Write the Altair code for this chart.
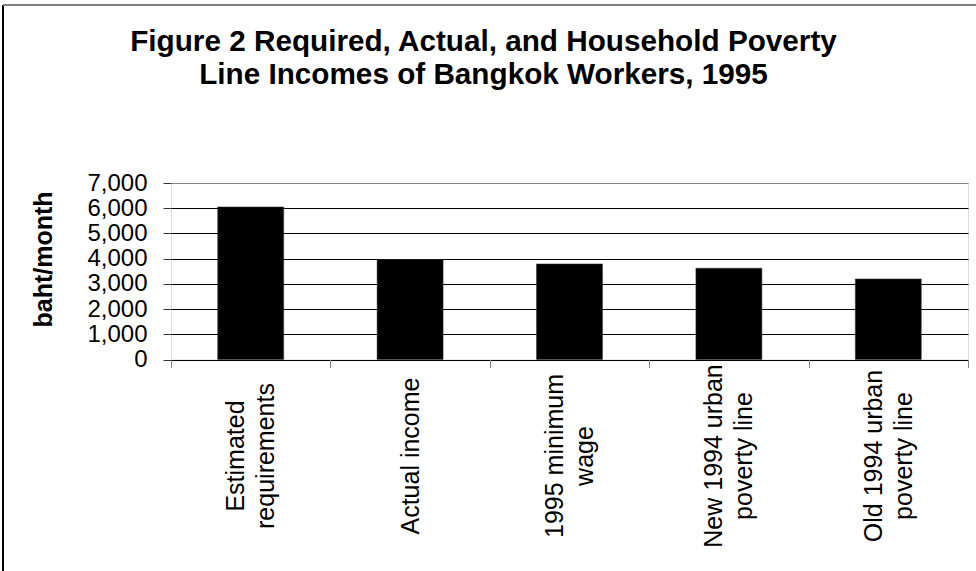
import altair as alt
import pandas as pd

categories = [
    "Estimated\nrequirements",
    "Actual income",
    "1995 minimum\nwage",
    "New 1994 urban\npoverty line",
    "Old 1994 urban\npoverty line",
]
values = [6050, 3960, 3790, 3620, 3195]
y_ticks = [0, 1000, 2000, 3000, 4000, 5000, 6000, 7000]
title_lines = [
    "Figure 2 Required, Actual, and Household Poverty",
    "Line Incomes of Bangkok Workers, 1995",
]
y_title = "baht/month"

FONT = "Liberation Sans"
df = pd.DataFrame({"cat": categories, "val": values})

bars = alt.Chart(df).mark_bar(
    color="black", stroke="#333333", strokeWidth=0.5, width=alt.RelativeBandSize(0.414)
).encode(
    x=alt.X(
        "cat:N",
        sort=categories,
        title=None,
        scale=alt.Scale(paddingInner=0, paddingOuter=0),
        axis=alt.Axis(
            labelExpr="datum.value ? split(datum.value, '\\n') : ''",
            labelAngle=270,
            labelAlign="center",
            labelBaseline="middle",
            labelLineHeight=30,
            labelOffset={"condition": {"test": "datum.value && indexof(datum.value, '\\n') >= 0", "value": -15}, "value": 0},
            labelPadding=88,
            labelFontSize=25,
            labelFont=FONT,
            labelColor="black",
            labelLimit=400,
            labelOverlap=False,
            tickBand="extent",
            tickSize=8,
            tickColor="#808080",
            domain=False,
            grid=False,
        ),
    ),
    y=alt.Y(
        "val:Q",
        title=y_title,
        scale=alt.Scale(domain=[0, 7000], nice=False),
        axis=alt.Axis(
            values=y_ticks,
            format=",d",
            labelFontSize=24,
            labelFont=FONT,
            labelColor="black",
            labelPadding=16,
            labelOverlap=False,
            tickSize=8,
            tickColor="#333333",
            domain=False,
            grid=True,
            gridColor={"condition": {"test": "datum.value >= 7000", "value": "#808080"}, "value": "black"},
            gridWidth=1,
            titleFont=FONT,
            titleFontSize=25,
            titleFontWeight="bold",
            titleColor="black",
            titlePadding=30,
            titleY=76,
        ),
    ),
)

frame_df = pd.DataFrame({"k": [0]})
left_edge = alt.Chart(frame_df).mark_rule(color="black", strokeWidth=2).encode(
    x=alt.value(-168), y=alt.value(-178), y2=alt.value(400)
)
top_edge = alt.Chart(frame_df).mark_rule(color="#808080", strokeWidth=2).encode(
    x=alt.value(-168), x2=alt.value(820), y=alt.value(-178)
)

chart = (
    alt.layer(bars, left_edge, top_edge)
    .properties(
        width=797,
        height=176.5,
        padding={"left": 171, "top": 183, "right": 8, "bottom": 211},
        autosize=alt.AutoSizeParams(type="none"),
        title=alt.TitleParams(
            text=title_lines,
            font=FONT,
            fontSize=29.7,
            fontWeight="bold",
            lineHeight=33,
            color="black",
            anchor="middle",
            dx=-86,
            offset=-87,
        ),
    )
    .configure_view(stroke="#808080", strokeWidth=2)
    .configure(background="white")
)

chart.save("out.html", embed_options={"renderer": "svg", "actions": False})
